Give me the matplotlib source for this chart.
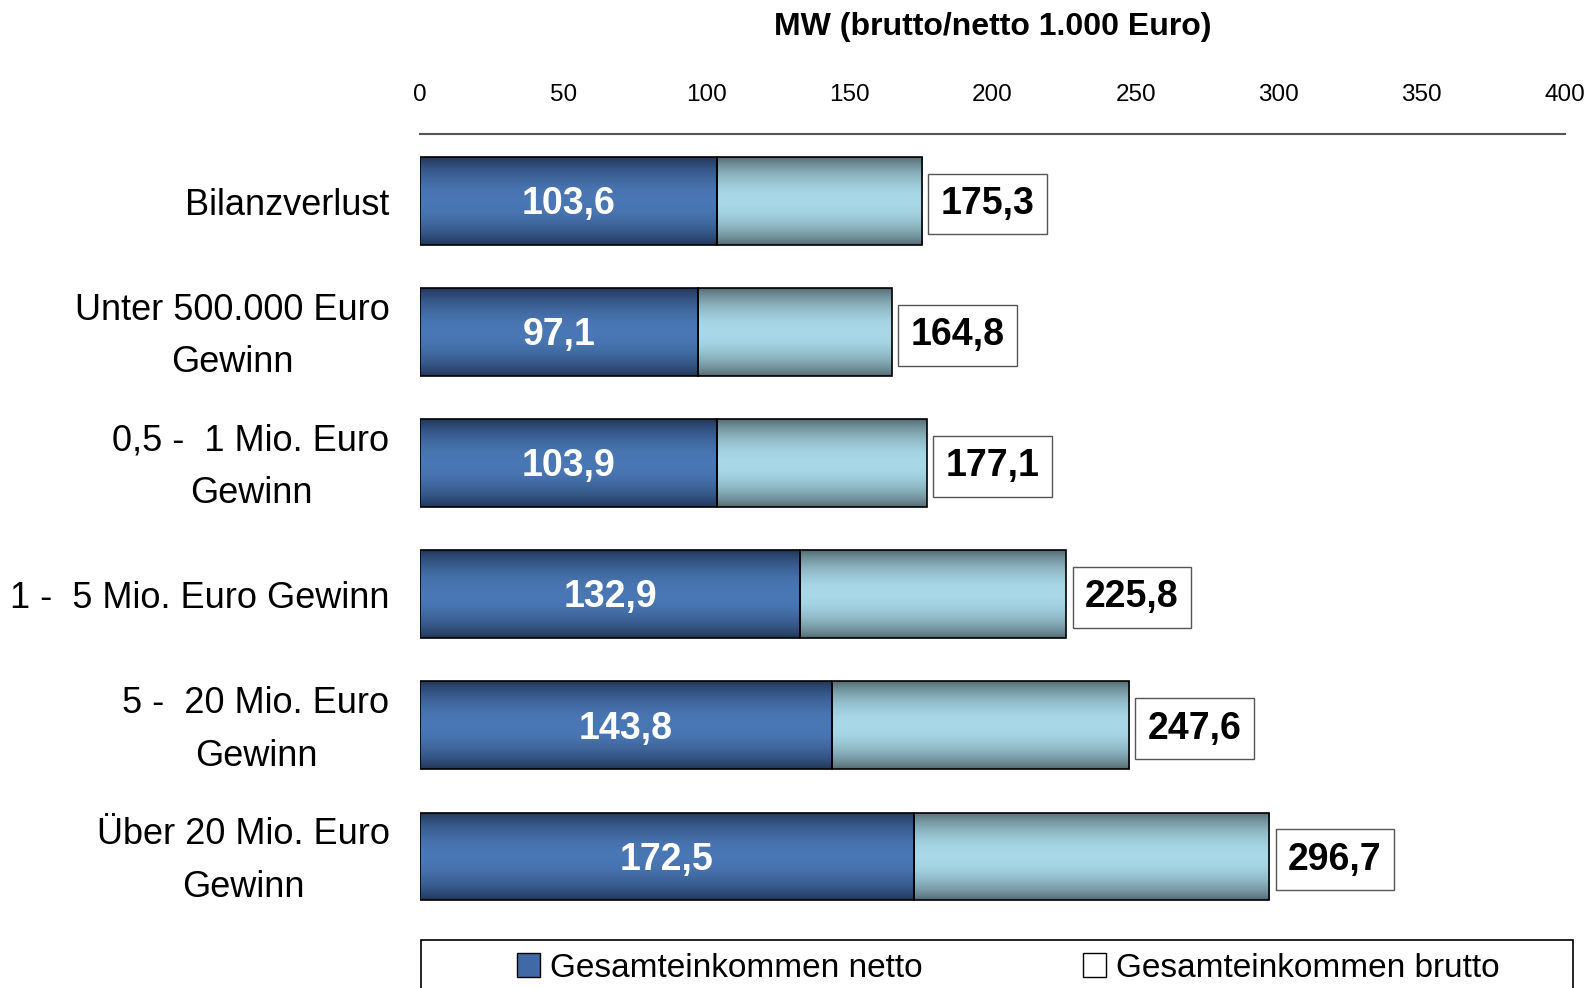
import numpy as np
import matplotlib.pyplot as plt
from matplotlib.patches import Patch, Rectangle
from matplotlib.transforms import ScaledTranslation

# data
categories = ['Bilanzverlust', 'Unter 500.000 Euro\nGewinn', '0,5 -  1 Mio. Euro\nGewinn',
              '1 -  5 Mio. Euro Gewinn', '5 -  20 Mio. Euro\nGewinn', 'Über 20 Mio. Euro\nGewinn']
netto = [103.6, 97.1, 103.9, 132.9, 143.8, 172.5]
brutto = [175.3, 164.8, 177.1, 225.8, 247.6, 296.7]
xticks = [0, 50, 100, 150, 200, 250, 300, 350, 400]

plt.rcParams['font.family'] = ['Liberation Sans', 'DejaVu Sans']


def gradient(edge, mid, n=64):
    t = np.linspace(0, 1, n)
    w = np.sin(np.pi * t) ** 0.8
    edge = np.array(edge)
    mid = np.array(mid)
    return (edge[None, :] * (1 - w[:, None]) + mid[None, :] * w[:, None])[:, None, :]


navy = gradient((0.13, 0.21, 0.35), (0.29, 0.47, 0.71))
light = gradient((0.33, 0.42, 0.45), (0.66, 0.85, 0.91))

fig = plt.figure(figsize=(15.93, 9.88), dpi=100)
ax = fig.add_axes([0.2637, 0.0628, 0.7187, 0.8016])

y = np.arange(len(categories))
h = 0.67
b1 = ax.barh(y, netto, height=h, color='none', edgecolor='black', linewidth=1.2, zorder=3)
rest = [b - n for b, n in zip(brutto, netto)]
b2 = ax.barh(y, rest, left=netto, height=h, color='none', edgecolor='black', linewidth=1.2, zorder=3)

for bars, grad in ((b1, navy), (b2, light)):
    for r in bars:
        x0, y0 = r.get_x(), r.get_y()
        im = ax.imshow(grad, extent=[x0, x0 + r.get_width(), y0 + r.get_height(), y0],
                       aspect='auto', zorder=2, interpolation='bilinear')
        im.set_clip_path(r)

for i in range(len(categories)):
    ax.text(netto[i] / 2, y[i] + 0.025, f'{netto[i]:.1f}'.replace('.', ','), color='white',
            fontsize=27, fontweight='bold', ha='center', va='center', zorder=4)
    ax.text(brutto[i] + 6.5, y[i] + 0.025, f'{brutto[i]:.1f}'.replace('.', ','), color='black',
            fontsize=27, fontweight='bold', ha='left', va='center', zorder=4,
            bbox=dict(boxstyle='square,pad=0.33', facecolor='white', edgecolor='#555555', linewidth=1))

ax.set_xlim(0, 400)
ax.set_ylim(len(categories) - 0.47, -0.51)
ax.set_xticks(xticks)
ax.xaxis.tick_top()
ax.tick_params(axis='x', length=0, pad=20, labelsize=17.5)
ax.tick_params(axis='y', length=0, pad=22, labelsize=26)
ax.set_yticks(y)
ax.set_yticklabels(categories)
shift = ScaledTranslation(0, -0.045, fig.dpi_scale_trans)
for t in ax.get_yticklabels():
    t.set_multialignment('center')
    t.set_linespacing(1.65)
    t.set_verticalalignment('center')
    t.set_transform(t.get_transform() + shift)
for s in ['left', 'right', 'bottom']:
    ax.spines[s].set_visible(False)
ax.spines['top'].set_color('#555555')
ax.spines['top'].set_linewidth(1.5)

fig.text(0.6231, 0.973, 'MW (brutto/netto 1.000 Euro)', fontsize=23, fontweight='bold',
         ha='center', va='center')

# legend frame runs off the bottom of the picture
fig.patches.append(Rectangle((0.2643, -0.05), 0.7231, 0.0986, transform=fig.transFigure,
                             facecolor='white', edgecolor='black', linewidth=1.2))
handles = [Patch(facecolor='#3f6aa5', edgecolor='black'),
           Patch(facecolor='white', edgecolor='black')]
fig.legend(handles, ['Gesamteinkommen netto', 'Gesamteinkommen brutto'], ncol=2,
           loc='center', bbox_to_anchor=(0.633, 0.02), frameon=False,
           fontsize=24, handlelength=0.7, handleheight=0.7, handletextpad=0.3,
           columnspacing=4.8, borderaxespad=0)

fig.savefig('out.png', dpi=100)
